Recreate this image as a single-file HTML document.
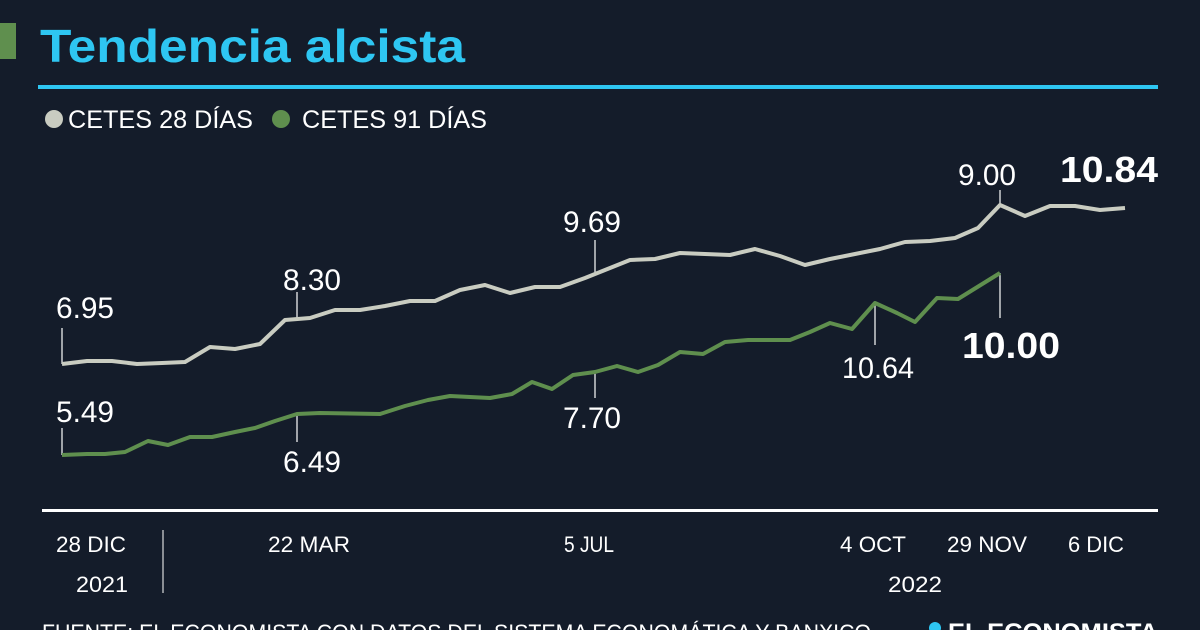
<!DOCTYPE html><html><head><style>body{margin:0;background:#141c2a;}svg{display:block}text{font-family:"Liberation Sans",sans-serif}</style></head><body>
<svg width="1200" height="630" viewBox="0 0 1200 630">
<rect width="1200" height="630" fill="#141c2a"/>
<rect x="0" y="23" width="16" height="36" fill="#5f8f4e"/>
<text x="40" y="62" font-size="46" font-weight="bold" fill="#2ec6f2" textLength="425" lengthAdjust="spacingAndGlyphs">Tendencia alcista</text>
<rect x="38" y="85" width="1120" height="4" fill="#2ec6f2"/>
<circle cx="54" cy="119" r="9" fill="#c9ccc1"/>
<text x="68" y="128" font-size="25" fill="#fff" textLength="185" lengthAdjust="spacingAndGlyphs">CETES 28 DÍAS</text>
<circle cx="249" cy="119" r="9" fill="#5f8f4e" transform="translate(32,0)"/>
<text x="302" y="128" font-size="25" fill="#fff" textLength="185" lengthAdjust="spacingAndGlyphs">CETES 91 DÍAS</text>
<g stroke="#fff" stroke-width="1.2">
<line x1="62" y1="364" x2="62" y2="328"/><line x1="297" y1="319" x2="297" y2="292"/><line x1="595" y1="274" x2="595" y2="240"/><line x1="1000" y1="205" x2="1000" y2="190"/>
<line x1="62" y1="455" x2="62" y2="428"/><line x1="297" y1="414" x2="297" y2="442"/><line x1="595" y1="372" x2="595" y2="398"/><line x1="875" y1="303" x2="875" y2="345"/><line x1="1000" y1="273" x2="1000" y2="318"/>
</g>
<polyline fill="none" stroke="#c9ccc1" stroke-width="4" stroke-linejoin="round" points="62,364 87,361 112,361 137,364 162,363 185,362 210,347 235,349 260,344 285,320 310,318 335,310 360,310 385,306 410,301 435,301 460,290 485,285 510,293 535,287 560,287 585,278 605,270 630,260 655,259 680,253 705,254 730,255 755,249 780,256 805,265 830,259 855,254 880,249 905,242 930,241 955,238 978,228 1000,205 1025,216 1050,206 1075,206 1100,210 1125,208"/>
<polyline fill="none" stroke="#5f8f4e" stroke-width="4" stroke-linejoin="round" points="62,455 87,454 105,454 125,452 148,441 168,445 190,437 212,437 235,432 255,428 275,421 297,414 320,413 380,414 405,406 428,400 450,396 470,397 490,398 512,394 532,382 552,389 573,375 595,372 617,366 638,372 658,365 680,352 703,354 725,342 748,340 790,340 810,332 830,323 852,329 875,303 897,313 915,322 937,298 958,299 1000,273"/>
<g font-size="30" fill="#fff">
<text x="56" y="318" textLength="58" lengthAdjust="spacingAndGlyphs">6.95</text>
<text x="283" y="290" textLength="58" lengthAdjust="spacingAndGlyphs">8.30</text>
<text x="563" y="232" textLength="58" lengthAdjust="spacingAndGlyphs">9.69</text>
<text x="958" y="185" textLength="58" lengthAdjust="spacingAndGlyphs">9.00</text>
<text x="56" y="422" textLength="58" lengthAdjust="spacingAndGlyphs">5.49</text>
<text x="283" y="472" textLength="58" lengthAdjust="spacingAndGlyphs">6.49</text>
<text x="563" y="428" textLength="58" lengthAdjust="spacingAndGlyphs">7.70</text>
<text x="842" y="378" textLength="72" lengthAdjust="spacingAndGlyphs">10.64</text>
</g>
<text x="1060" y="182" font-size="36" font-weight="bold" fill="#fff" textLength="98" lengthAdjust="spacingAndGlyphs">10.84</text>
<text x="962" y="358" font-size="36" font-weight="bold" fill="#fff" textLength="98" lengthAdjust="spacingAndGlyphs">10.00</text>
<rect x="42" y="509" width="1116" height="3" fill="#fff"/>
<line x1="163" y1="530" x2="163" y2="593" stroke="#fff" stroke-width="1"/>
<g font-size="22" fill="#fff">
<text x="56" y="552" textLength="70" lengthAdjust="spacingAndGlyphs">28 DIC</text>
<text x="76" y="592" textLength="52" lengthAdjust="spacingAndGlyphs">2021</text>
<text x="268" y="552" textLength="82" lengthAdjust="spacingAndGlyphs">22 MAR</text>
<text x="564" y="552" textLength="50" lengthAdjust="spacingAndGlyphs">5 JUL</text>
<text x="840" y="552" textLength="66" lengthAdjust="spacingAndGlyphs">4 OCT</text>
<text x="947" y="552" textLength="80" lengthAdjust="spacingAndGlyphs">29 NOV</text>
<text x="1068" y="552" textLength="56" lengthAdjust="spacingAndGlyphs">6 DIC</text>
<text x="888" y="592" textLength="54" lengthAdjust="spacingAndGlyphs">2022</text>
<text x="42" y="640" textLength="835" lengthAdjust="spacingAndGlyphs">FUENTE: EL ECONOMISTA CON DATOS DEL SISTEMA ECONOMÁTICA Y BANXICO.</text>
</g>
<circle cx="935" cy="628" r="6" fill="#2ec6f2"/>
<text x="948" y="640" font-family="Liberation Serif" font-size="24" font-weight="bold" fill="#fff" textLength="210" lengthAdjust="spacingAndGlyphs">EL ECONOMISTA</text>
</svg></body></html>
